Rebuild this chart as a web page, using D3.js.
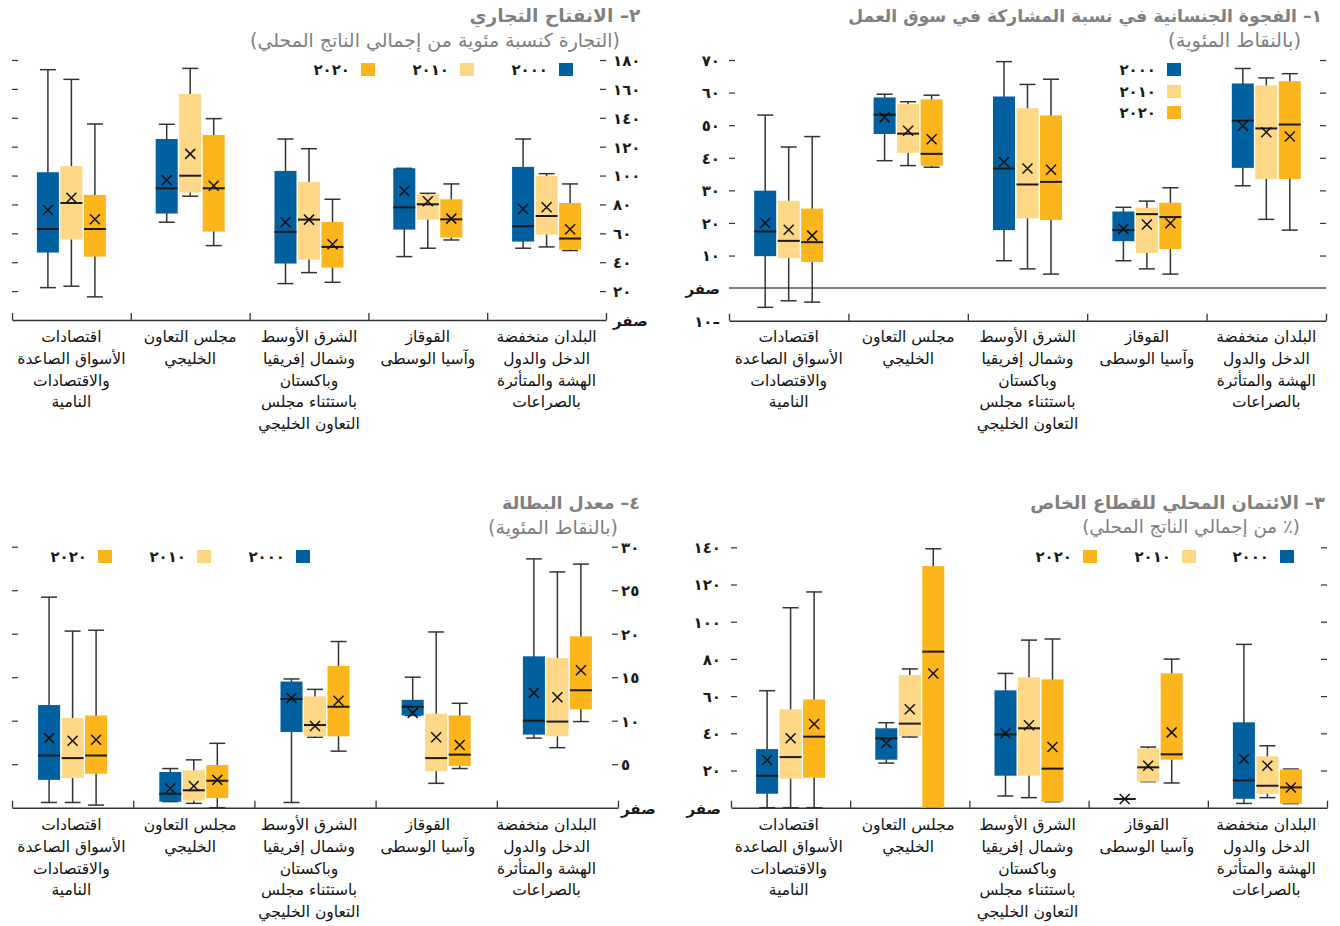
<!DOCTYPE html>
<html><head><meta charset="utf-8">
<script src="https://cdn.jsdelivr.net/npm/d3@7"></script>
<style>body{margin:0;background:#fff} svg{display:block} text{font-family:"DejaVu Sans",sans-serif}</style>
</head><body><svg id="c" width="1340" height="926"></svg>
<script>
const categories = [
 ["اقتصادات","الأسواق الصاعدة","والاقتصادات","النامية"],
 ["مجلس التعاون","الخليجي"],
 ["الشرق الأوسط","وشمال إفريقيا","وباكستان","باستثناء مجلس","التعاون الخليجي"],
 ["القوقاز","وآسيا الوسطى"],
 ["البلدان منخفضة","الدخل والدول","الهشة والمتأثرة","بالصراعات"]
];
const years = ["٢٠٠٠","٢٠١٠","٢٠٢٠"];
const colors = ["#0060a0","#fed886","#fdb51c"];

// each row: [min, q1, median, q3, max, mean]
const gap2000 = [[-5.9,9.8,17.4,29.9,53.1,20.0],[39.1,47.3,53.2,58.5,59.5,52.4],[8.4,17.8,36.7,58.8,69.5,38.7],[8.4,14.4,17.8,23.5,24.8,18.2],[31.4,36.9,51.4,62.8,67.4,49.8]];
const gap2010 = [[-3.9,9.2,14.5,26.8,43.3,17.9],[37.6,41.5,47.4,56.5,57.2,48.3],[5.9,21.4,31.8,55.2,62.5,36.7],[5.9,10.8,22.7,24.7,26.7,19.5],[21.1,33.5,49.0,62.2,64.5,47.8]];
const gap2020 = [[-4.3,8.0,14.1,24.4,46.5,16.1],[37.1,37.5,41.2,57.9,59.2,45.7],[4.3,20.9,32.6,53.0,64.1,36.3],[4.3,12.0,21.8,26.2,30.8,19.9],[17.8,33.5,50.2,63.5,65.8,46.5]];

const trade2000 = [[22.4,46.7,63.0,102.3,173.3,76.2],[67.7,73.7,91.2,125.3,135.5,96.7],[25.2,39.1,61.0,103.2,125.3,67.7],[43.9,62.6,78.0,105.0,105.0,89.3],[49.7,54.3,64.9,106.0,125.3,76.9]];
const trade2010 = [[23.4,55.7,81.0,106.6,166.6,84.7],[85.7,88.2,99.9,156.5,174.2,115.0],[32.8,41.8,69.5,95.6,118.6,69.5],[49.7,69.5,80.1,87.0,87.7,82.2],[50.6,59.1,72.0,99.7,101.3,78.0]];
const trade2020 = [[16.0,43.9,63.0,86.6,135.7,69.7],[51.5,61.2,91.2,128.1,139.4,93.0],[26.1,36.3,50.6,67.9,83.6,52.4],[55.4,57.0,69.7,83.6,94.2,70.2],[48.1,48.7,56.4,81.0,94.2,62.8]];

const credit2000 = [[0,7.5,17.2,31.5,62.9,25.6],[24.0,25.8,37.3,42.7,45.7,34.8],[6.3,17.2,39.4,63.1,72.2,40.0],[4.7,4.7,4.7,4.7,4.7,4.7],[2.3,4.8,14.7,45.9,87.8,26.2]];
const credit2010 = [[0,15.6,27.2,52.9,107.5,37.3],[38.0,38.5,45.2,71.3,74.6,52.9],[5.4,17.2,42.7,70.1,90.1,44.3],[14.0,14.0,21.7,31.9,32.6,22.6],[5.4,7.5,11.8,27.6,33.3,22.6]];
const credit2020 = [[0,16.1,38.2,58.2,116.0,45.0],[0,0,83.9,129.9,139.2,72.2],[3.2,3.2,21.0,69.0,90.7,32.6],[13.3,25.8,28.7,72.2,79.9,40.5],[2.2,2.2,10.9,20.6,20.8,10.9]];

const unemp2000 = [[0.6,3.2,6.0,11.8,24.2,8.0],[0.7,0.7,1.6,4.1,4.5,2.2],[0.6,8.7,12.5,14.5,14.8,12.6],[10.6,10.6,11.6,12.4,15.0,10.9],[8.0,8.4,10.0,17.4,28.6,13.2]];
const unemp2010 = [[0.6,3.4,5.7,10.3,20.3,7.7],[0.5,0.8,2.0,4.3,5.5,2.5],[8.1,8.2,9.5,12.8,13.6,9.4],[2.8,4.2,5.7,10.8,20.2,8.1],[6.9,8.2,9.9,17.2,27.1,12.7]];
const unemp2020 = [[0.3,3.9,6.0,10.6,20.4,7.8],[0,1.1,3.1,4.9,7.4,3.2],[6.5,8.2,11.6,16.3,19.1,12.3],[4.5,4.8,6.1,10.6,12.0,7.2],[9.9,11.3,13.5,19.7,28.0,15.8]];

const gapTicks = [-10,0,10,20,30,40,50,60,70];
const tradeTicks = [0,20,40,60,80,100,120,140,160,180];
const creditTicks = [0,20,40,60,80,100,120,140];
const unempTicks = [0,5,10,15,20,25,30];

const titles = ["١– الفجوة الجنسانية في نسبة المشاركة في سوق العمل","٢– الانفتاح التجاري","٣– الائتمان المحلي للقطاع الخاص","٤– معدل البطالة"];
const subtitles = ["(بالنقاط المئوية)","(التجارة كنسبة مئوية من إجمالي الناتج المحلي)","(٪ من إجمالي الناتج المحلي)","(بالنقاط المئوية)"];

const svg = d3.select("#c");
const ar = n => String(n).replace(/\d/g, d => "٠١٢٣٤٥٦٧٨٩"[d]);
const fmt = v => v === 0 ? "صفر" : (v < 0 ? ar(-v) + "–" : ar(v));

function fitRight(sel, right, width) {
  const node = sel.node();
  let bb = node.getBBox();
  if (width) {
    const fs = parseFloat(sel.attr("font-size"));
    sel.attr("font-size", fs * width / bb.width);
    bb = node.getBBox();
  }
  sel.attr("x", +sel.attr("x") + (right - (bb.x + bb.width)));
}

function panel(cfg) {
  const g = svg.append("g");
  const x = d3.scaleBand().domain(d3.range(categories.length)).range([cfg.x0, cfg.x1]);
  const xl = d3.scaleBand().domain(d3.range(categories.length)).range(cfg.labRange || [cfg.x0, cfg.x1]);
  const xb = d3.scaleLinear().domain([0, categories.length]).range([cfg.x0, cfg.x1]);
  const y = d3.scaleLinear().domain(cfg.domain).range([cfg.yb, cfg.yt]);
  const inner = cfg.ticks.filter(t => t > cfg.domain[0] && t !== 0);

  // inner tick marks on both sides
  const tl = g.append("g").attr("transform", `translate(${cfg.x0},0)`)
    .call(d3.axisRight(y).tickValues(inner).tickSize(6).tickFormat(""));
  const tr = g.append("g").attr("transform", `translate(${cfg.x1},0)`)
    .call(d3.axisLeft(y).tickValues(inner).tickSize(6).tickFormat(""));
  [tl, tr].forEach(a => { a.select(".domain").remove(); a.selectAll("line").attr("stroke", "#333").attr("stroke-width", 1.2); });

  // tick labels
  const lab = g.append("g").attr("transform", `translate(${cfg.labX},0)`)
    .call((cfg.labSide === "left" ? d3.axisLeft(y) : d3.axisRight(y)).tickValues(cfg.ticks).tickSize(0).tickPadding(0).tickFormat(fmt));
  lab.select(".domain").remove();
  lab.attr("font-family", null).attr("font-size", 15);
  lab.selectAll("text").attr("font-weight", "bold").attr("fill", "#1a1a1a").attr("dy", "0.36em");

  // zero line if domain below zero
  if (cfg.domain[0] < 0) {
    g.append("line").attr("x1", cfg.x0).attr("x2", cfg.x1).attr("y1", y(0)).attr("y2", y(0))
      .attr("stroke", "#555").attr("stroke-width", 1.5);
  }

  // category axis
  const ax = g.append("g").attr("transform", `translate(0,${y(cfg.domain[0])})`)
    .call(d3.axisTop(xb).tickValues(d3.range(categories.length + 1)).tickSize(7).tickSizeOuter(0).tickFormat(""));
  ax.selectAll("line").attr("stroke", "#333").attr("stroke-width", 1.3);
  ax.select(".domain").attr("stroke", "#333").attr("stroke-width", 1.5);

  // category labels
  categories.forEach((lines, i) => {
    lines.forEach((t, k) => {
      g.append("text").attr("x", xl(i) + xl.bandwidth() / 2).attr("y", cfg.catY + k * 21.6)
        .attr("dy", "0.35em").attr("text-anchor", "middle").attr("direction", "rtl")
        .attr("font-size", 15.5).attr("fill", "#111").text(t);
    });
  });

  // boxes
  const off = [-23.5, 0, 23.5], bw = 22, cw = 16, xs = 5;
  cfg.series.forEach((ser, s) => {
    ser.forEach((d, i) => {
      const cx = x(i) + x.bandwidth() / 2 + off[s];
      const [mn, q1, md, q3, mx, mean] = d;
      const bg = g.append("g");
      bg.append("line").attr("x1", cx).attr("x2", cx).attr("y1", y(mx)).attr("y2", y(mn)).attr("stroke", "#333").attr("stroke-width", 1.5);
      [mn, mx].forEach(v => bg.append("line").attr("x1", cx - cw / 2).attr("x2", cx + cw / 2).attr("y1", y(v)).attr("y2", y(v)).attr("stroke", "#333").attr("stroke-width", 1.5));
      bg.append("rect").attr("x", cx - bw / 2).attr("width", bw).attr("y", y(q3)).attr("height", Math.max(0, y(q1) - y(q3))).attr("fill", colors[s]);
      bg.append("line").attr("x1", cx - bw / 2).attr("x2", cx + bw / 2).attr("y1", y(md)).attr("y2", y(md)).attr("stroke", "#1a1a1a").attr("stroke-width", 2);
      const my = y(mean);
      bg.append("path").attr("d", `M${cx - xs},${my - xs}L${cx + xs},${my + xs}M${cx - xs},${my + xs}L${cx + xs},${my - xs}`)
        .attr("stroke", "#111").attr("stroke-width", 1.5).attr("fill", "none");
    });
  });

  // legend
  years.forEach((yr, s) => {
    const L = cfg.legend[s];
    g.append("rect").attr("x", L[0]).attr("y", L[1]).attr("width", 14).attr("height", 13).attr("fill", colors[s]);
    g.append("text").attr("x", L[0] - 11).attr("y", L[1] + 6.5).attr("dy", "0.36em").attr("text-anchor", "end")
      .attr("font-size", 15).attr("font-weight", "bold").attr("fill", "#1a1a1a").text(yr);
  });

  // titles
  const t = g.append("text").attr("x", cfg.tRight).attr("y", cfg.tY).attr("dy", "0.35em").attr("direction", "rtl")
    .attr("font-size", 18).attr("font-weight", "bold").attr("fill", "#808080").text(cfg.title);
  fitRight(t, cfg.tRight, cfg.tW);
  const st = g.append("text").attr("x", cfg.sRight).attr("y", cfg.sY).attr("dy", "0.35em").attr("direction", "rtl")
    .attr("font-size", 16).attr("fill", "#808080").text(cfg.subtitle);
  fitRight(st, cfg.sRight, cfg.sW);
}

panel({x0: 729, x1: 1326, domain: [-10, 70], yb: 320.7, yt: 60, ticks: gapTicks, labX: 720, labSide: "left",
  catY: 337, series: [gap2000, gap2010, gap2020], legend: [[1167, 63], [1167, 85], [1167, 106]],
  title: titles[0], subtitle: subtitles[0], tRight: 1322, tY: 16, tW: 474, sRight: 1301, sY: 40, sW: 133});
panel({x0: 12, x1: 606, domain: [0, 180], yb: 320, yt: 60, ticks: tradeTicks, labX: 613, labSide: "right",
  catY: 337, series: [trade2000, trade2010, trade2020], legend: [[559, 63], [460, 63], [361, 63]],
  title: titles[1], subtitle: subtitles[1], tRight: 641, tY: 16, tW: 171, sRight: 620, sY: 40, sW: 370});
panel({x0: 731, x1: 1327, domain: [0, 140], yb: 807.7, yt: 547.3, ticks: creditTicks, labX: 721, labSide: "left",
  catY: 825, series: [credit2000, credit2010, credit2020], legend: [[1280, 550], [1182, 550], [1083, 550]],
  labRange: [729, 1326],
  title: titles[2], subtitle: subtitles[2], tRight: 1325, tY: 503, tW: 295, sRight: 1300, sY: 527, sW: 218});
panel({x0: 12, x1: 618, domain: [0, 30], yb: 807.7, yt: 546.7, ticks: unempTicks, labX: 621, labSide: "right",
  catY: 825, series: [unemp2000, unemp2010, unemp2020], legend: [[296, 550], [197, 550], [98, 550]],
  labRange: [12, 606],
  title: titles[3], subtitle: subtitles[3], tRight: 640, tY: 503, tW: 138, sRight: 618, sY: 527, sW: 130});
</script></body></html>
